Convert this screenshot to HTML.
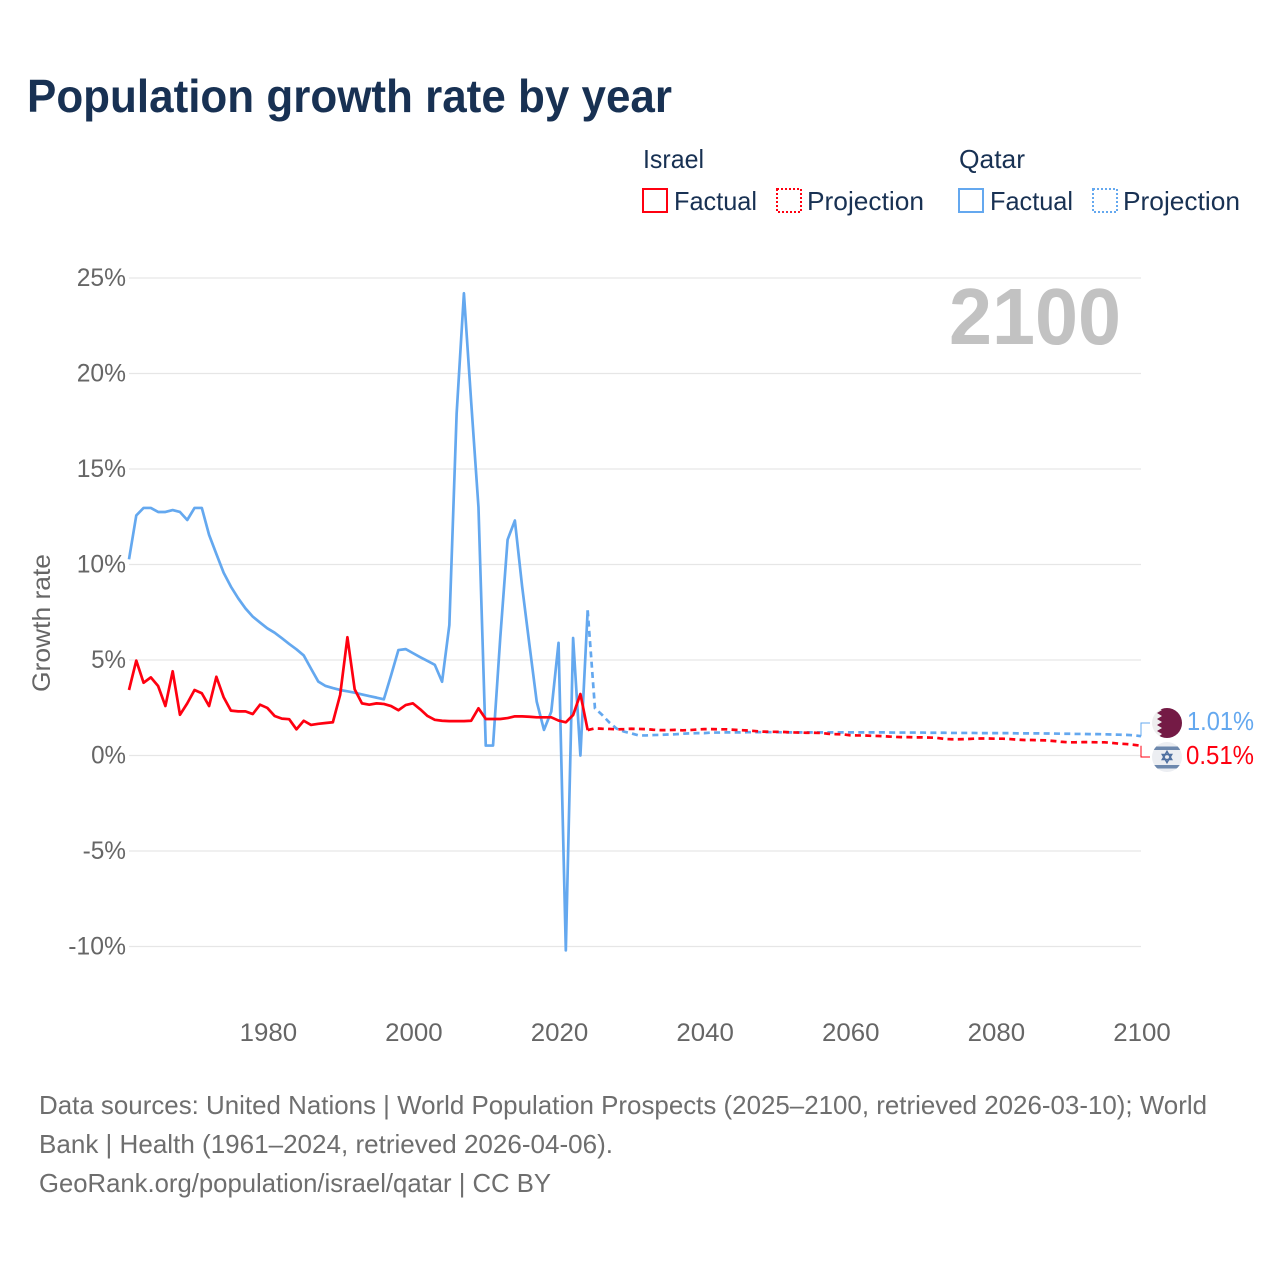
<!DOCTYPE html>
<html lang="en">
<head>
<meta charset="utf-8">
<title>Population growth rate by year</title>
<style>
html,body{margin:0;padding:0;background:#fff;}
svg{display:block;font-family:"Liberation Sans",sans-serif;}
</style>
</head>
<body>
<svg id="chart" xmlns="http://www.w3.org/2000/svg" width="1280" height="1280" viewBox="0 0 1280 1280">
  <defs>
    <clipPath id="qa-clip"><circle cx="1167" cy="723" r="15"/></clipPath>
    <clipPath id="il-clip"><circle cx="1167" cy="757" r="15"/></clipPath>
  </defs>
  <rect width="1280" height="1280" fill="#fff"/>
  <text x="27" y="112" font-size="46" font-weight="bold" fill="#183153" textLength="645" lengthAdjust="spacingAndGlyphs">Population growth rate by year</text>

  <g font-size="26" fill="#183153">
    <text x="643" y="168" textLength="61" lengthAdjust="spacingAndGlyphs">Israel</text>
    <text x="959" y="168" textLength="66" lengthAdjust="spacingAndGlyphs">Qatar</text>
    <rect x="643" y="189" width="24" height="23" fill="none" stroke="#ff0010" stroke-width="2"/>
    <text x="674" y="210" textLength="83" lengthAdjust="spacingAndGlyphs">Factual</text>
    <rect x="777" y="189" width="24" height="23" fill="none" stroke="#ff0010" stroke-width="2" stroke-dasharray="2 2"/>
    <text x="807" y="210" textLength="117" lengthAdjust="spacingAndGlyphs">Projection</text>
    <rect x="959" y="189" width="24" height="23" fill="none" stroke="#64a8ef" stroke-width="2"/>
    <text x="990" y="210" textLength="83" lengthAdjust="spacingAndGlyphs">Factual</text>
    <rect x="1093" y="189" width="24" height="23" fill="none" stroke="#64a8ef" stroke-width="2" stroke-dasharray="2 2"/>
    <text x="1123" y="210" textLength="117" lengthAdjust="spacingAndGlyphs">Projection</text>
  </g>

  <g id="grid"></g>
  <g id="y-ticks"></g>
  <g id="x-ticks"></g>
  <text transform="translate(50,623) rotate(-90)" text-anchor="middle" font-size="25" fill="#666" textLength="138" lengthAdjust="spacingAndGlyphs">Growth rate</text>
  <text x="949" y="344" font-size="80" font-weight="bold" fill="#c2c2c2" textLength="172" lengthAdjust="spacingAndGlyphs">2100</text>

  <g id="series"></g>
  <g id="leaders"></g>

  <g clip-path="url(#qa-clip)">
    <rect x="1152" y="708" width="30" height="30" fill="#eeeeee"/>
    <polygon fill="#741a45" points="1182,708 1157,708 1162,710 1157,713 1162,716 1157,719 1162,722 1157,725 1162,728 1157,731 1162,734 1157,738 1182,738"/>
  </g>
  <g clip-path="url(#il-clip)">
    <rect x="1152" y="742" width="30" height="30" fill="#eceef2"/>
    <rect x="1152" y="746.5" width="30" height="3.5" fill="#6d88ad"/>
    <rect x="1152" y="765" width="30" height="3.5" fill="#6d88ad"/>
    <polygon fill="none" stroke="#4f70a0" stroke-width="1.6" points="1167,751.5 1171.6,759.5 1162.4,759.5"/>
    <polygon fill="none" stroke="#4f70a0" stroke-width="1.6" points="1167,762.5 1171.6,754.5 1162.4,754.5"/>
  </g>
  <text x="1187" y="730" font-size="26" fill="#64a8ef" textLength="67" lengthAdjust="spacingAndGlyphs">1.01%</text>
  <text x="1186" y="764" font-size="26" fill="#ff0010" textLength="68" lengthAdjust="spacingAndGlyphs">0.51%</text>

  <g font-size="26" fill="#6e6e6e">
    <text x="39" y="1114" textLength="1168" lengthAdjust="spacingAndGlyphs">Data sources: United Nations | World Population Prospects (2025–2100, retrieved 2026-03-10); World</text>
    <text x="39" y="1153" textLength="574" lengthAdjust="spacingAndGlyphs">Bank | Health (1961–2024, retrieved 2026-04-06).</text>
    <text x="39" y="1192" textLength="512" lengthAdjust="spacingAndGlyphs">GeoRank.org/population/israel/qatar | CC BY</text>
  </g>
</svg>
<script>
const firstYear = 1961;
const lastFactualYear = 2024;
const lastYear = 2100;
const yTickValues = [25, 20, 15, 10, 5, 0, -5, -10];
const xTickYears = [1980, 2000, 2020, 2040, 2060, 2080, 2100];
const israelFactual = [3.43,4.97,3.81,4.09,3.64,2.59,4.41,2.13,2.73,3.43,3.26,2.59,4.12,3.05,2.35,2.31,2.31,2.17,2.66,2.49,2.07,1.93,1.90,1.37,1.82,1.60,1.66,1.70,1.74,3.17,6.19,3.46,2.73,2.66,2.73,2.70,2.59,2.37,2.64,2.73,2.42,2.07,1.87,1.82,1.80,1.80,1.80,1.82,2.47,1.91,1.91,1.91,1.96,2.05,2.05,2.03,2.00,2.00,2.00,1.83,1.74,2.12,3.22,1.33];
const qatarFactual = [10.27,12.57,12.96,12.96,12.75,12.75,12.85,12.75,12.33,12.96,12.96,11.55,10.55,9.57,8.84,8.23,7.70,7.27,6.96,6.66,6.43,6.14,5.84,5.56,5.24,4.55,3.87,3.64,3.53,3.43,3.36,3.29,3.20,3.11,3.03,2.94,4.20,5.52,5.57,5.36,5.15,4.95,4.75,3.86,6.83,17.9,24.2,18.5,13.0,0.52,0.52,6.2,11.3,12.3,8.84,5.8,2.82,1.34,2.3,5.9,-10.2,6.15,0.0,7.6];
const israelProjection = [1.42,1.40,1.39,1.37,1.38,1.40,1.39,1.38,1.35,1.33,1.33,1.34,1.32,1.33,1.36,1.38,1.38,1.37,1.37,1.35,1.33,1.31,1.28,1.25,1.24,1.24,1.23,1.21,1.20,1.19,1.19,1.18,1.14,1.12,1.11,1.06,1.05,1.05,1.03,1.02,1.00,0.98,0.96,0.96,0.95,0.95,0.94,0.92,0.87,0.85,0.85,0.86,0.88,0.89,0.89,0.88,0.88,0.86,0.83,0.81,0.81,0.80,0.79,0.76,0.72,0.69,0.69,0.70,0.70,0.69,0.69,0.66,0.62,0.60,0.56,0.51];
const qatarProjection = [2.47,2.12,1.72,1.40,1.25,1.16,1.05,1.05,1.07,1.08,1.10,1.11,1.14,1.16,1.17,1.17,1.20,1.20,1.21,1.21,1.21,1.22,1.22,1.22,1.22,1.22,1.21,1.21,1.21,1.21,1.21,1.21,1.21,1.21,1.21,1.21,1.21,1.21,1.21,1.21,1.21,1.20,1.20,1.20,1.20,1.20,1.19,1.19,1.19,1.18,1.18,1.18,1.18,1.17,1.17,1.17,1.17,1.17,1.16,1.16,1.16,1.16,1.15,1.15,1.14,1.14,1.13,1.13,1.12,1.12,1.11,1.10,1.09,1.08,1.06,1.01];

const SVG_NS = 'http://www.w3.org/2000/svg';
const plotLeft = 129;
const plotRight = 1141;
const yZero = 755.5;
const pxPerPercent = 19.1;
const ISRAEL_COLOR = '#ff0010';
const QATAR_COLOR = '#64a8ef';
const LINE_WIDTH = '2.7';
const DASHES = '6 4.3';

function xScale(year) {
  return plotLeft + (year - firstYear) * (plotRight - plotLeft) / (lastYear - firstYear);
}
function yScale(value) {
  return yZero - value * pxPerPercent;
}
function make(tag, parent) {
  const el = document.createElementNS(SVG_NS, tag);
  parent.appendChild(el);
  return el;
}
function pointsFrom(startYear, values) {
  return values.map(function (v, i) {
    return xScale(startYear + i).toFixed(2) + ',' + yScale(v).toFixed(2);
  }).join(' ');
}

const gridGroup = document.getElementById('grid');
const yTickGroup = document.getElementById('y-ticks');
yTickValues.forEach(function (value) {
  const line = make('line', gridGroup);
  
  
  line.setAttribute('x1', plotLeft);
  line.setAttribute('x2', plotRight);
  line.setAttribute('y1', yScale(value));
  line.setAttribute('y2', yScale(value));
  line.setAttribute('stroke', '#e6e6e6');
  line.setAttribute('stroke-width', '1.2');

  const label = make('text', yTickGroup);
  
  
  const str = value + '%';
  const digits = String(Math.abs(value)).length;
  label.setAttribute('x', 126);
  label.setAttribute('y', yScale(value) + 8);
  label.setAttribute('text-anchor', 'end');
  label.setAttribute('font-size', '25');
  label.setAttribute('fill', '#666');
  label.setAttribute('textLength', digits * 14.4 + 20.5 + (value < 0 ? 8.5 : 0));
  label.setAttribute('lengthAdjust', 'spacingAndGlyphs');
  label.textContent = str;
});

const xTickGroup = document.getElementById('x-ticks');
xTickYears.forEach(function (year) {
  const label = make('text', xTickGroup);
  
  
  label.setAttribute('x', xScale(year) + 1);
  label.setAttribute('y', 1041);
  label.setAttribute('text-anchor', 'middle');
  label.setAttribute('font-size', '25');
  label.setAttribute('fill', '#666');
  label.setAttribute('textLength', '57.5');
  label.setAttribute('lengthAdjust', 'spacingAndGlyphs');
  label.textContent = year;
});

const seriesGroup = document.getElementById('series');

const qatarFactualLine = make('polyline', seriesGroup);


qatarFactualLine.setAttribute('points', pointsFrom(firstYear, qatarFactual));
qatarFactualLine.setAttribute('fill', 'none');
qatarFactualLine.setAttribute('stroke', QATAR_COLOR);
qatarFactualLine.setAttribute('stroke-width', LINE_WIDTH);
qatarFactualLine.setAttribute('stroke-linejoin', 'round');

const qatarProjectionLine = make('polyline', seriesGroup);


qatarProjectionLine.setAttribute('points', pointsFrom(lastFactualYear, [qatarFactual[qatarFactual.length - 1]].concat(qatarProjection)));
qatarProjectionLine.setAttribute('fill', 'none');
qatarProjectionLine.setAttribute('stroke', QATAR_COLOR);
qatarProjectionLine.setAttribute('stroke-width', LINE_WIDTH);
qatarProjectionLine.setAttribute('stroke-dasharray', DASHES);

const israelFactualLine = make('polyline', seriesGroup);


israelFactualLine.setAttribute('points', pointsFrom(firstYear, israelFactual));
israelFactualLine.setAttribute('fill', 'none');
israelFactualLine.setAttribute('stroke', ISRAEL_COLOR);
israelFactualLine.setAttribute('stroke-width', LINE_WIDTH);
israelFactualLine.setAttribute('stroke-linejoin', 'round');

const israelProjectionLine = make('polyline', seriesGroup);


israelProjectionLine.setAttribute('points', pointsFrom(lastFactualYear, [israelFactual[israelFactual.length - 1]].concat(israelProjection)));
israelProjectionLine.setAttribute('fill', 'none');
israelProjectionLine.setAttribute('stroke', ISRAEL_COLOR);
israelProjectionLine.setAttribute('stroke-width', LINE_WIDTH);
israelProjectionLine.setAttribute('stroke-dasharray', DASHES);

const leaderGroup = document.getElementById('leaders');

const qatarLeader = make('polyline', leaderGroup);


qatarLeader.setAttribute('points', plotRight + ',' + yScale(qatarProjection[qatarProjection.length - 1]) + ' ' + plotRight + ',723 1150,723');
qatarLeader.setAttribute('fill', 'none');
qatarLeader.setAttribute('stroke', QATAR_COLOR);
qatarLeader.setAttribute('stroke-width', '1');

const israelLeader = make('polyline', leaderGroup);


israelLeader.setAttribute('points', plotRight + ',' + yScale(israelProjection[israelProjection.length - 1]) + ' ' + plotRight + ',757 1150,757');
israelLeader.setAttribute('fill', 'none');
israelLeader.setAttribute('stroke', ISRAEL_COLOR);
israelLeader.setAttribute('stroke-width', '1');
</script>
</body>
</html>
